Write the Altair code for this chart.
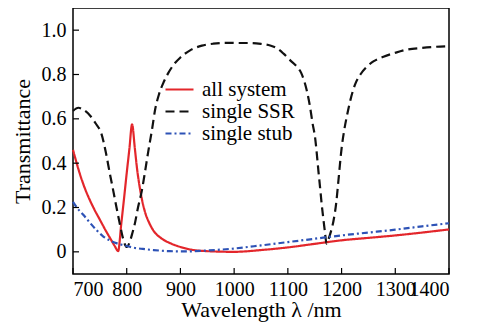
import altair as alt
import pandas as pd

series_names = ["all system", "single SSR", "single stub"]
series_colors = ["#e3262b", "#111111", "#2d52b6"]
series_dashes = [[1, 0], [9, 5], [6, 3, 2, 3]]

lam_all = [700, 713, 720, 732, 740, 750, 760, 770, 778, 784, 790, 795, 800, 805, 810,
           815, 819, 825, 834, 842, 850, 865, 880, 900, 920, 950, 1000, 1050, 1100,
           1150, 1200, 1250, 1300, 1350, 1400]
t_all = [0.46, 0.35, 0.30, 0.23, 0.19, 0.145, 0.10, 0.058, 0.025, 0.003, 0.13, 0.24,
         0.355, 0.465, 0.575, 0.47, 0.38, 0.28, 0.18, 0.13, 0.095, 0.06, 0.04, 0.022,
         0.01, 0.003, 0.0, 0.008, 0.02, 0.036, 0.052, 0.063, 0.074, 0.087, 0.101]

lam_ssr = [700, 710, 720, 732, 742, 753, 761, 769, 775, 781, 786, 791, 795, 800, 805,
           810, 815, 821, 828, 834, 840, 847, 853, 860, 868, 877, 887, 900, 918, 940,
           961, 985, 1011, 1030, 1050, 1067, 1080, 1092, 1104, 1117, 1125, 1135, 1141,
           1146, 1151, 1154, 1157, 1160, 1163, 1166, 1169, 1172, 1176, 1180, 1185, 1190,
           1194, 1200, 1205, 1210, 1217, 1225, 1235, 1247, 1260, 1278, 1300, 1321, 1350,
           1375, 1400]
t_ssr = [0.636, 0.65, 0.64, 0.614, 0.58, 0.532, 0.45, 0.348, 0.275, 0.2, 0.14, 0.082,
         0.045, 0.022, 0.04, 0.08, 0.126, 0.2, 0.274, 0.36, 0.451, 0.55, 0.643, 0.71,
         0.761, 0.805, 0.843, 0.877, 0.909, 0.93, 0.939, 0.943, 0.942, 0.942, 0.938,
         0.931, 0.918, 0.894, 0.865, 0.835, 0.806, 0.73, 0.658, 0.58, 0.51, 0.44, 0.362,
         0.29, 0.215, 0.15, 0.09, 0.037, 0.06, 0.09, 0.14, 0.22, 0.318, 0.466, 0.55,
         0.614, 0.69, 0.754, 0.8, 0.835, 0.86, 0.88, 0.898, 0.912, 0.92, 0.925, 0.928]

lam_stub = [700, 707, 720, 732, 745, 756, 770, 782, 794, 810, 830, 850, 880, 910, 950,
            1000, 1050, 1100, 1150, 1200, 1250, 1300, 1350, 1400]
t_stub = [0.225, 0.2, 0.165, 0.13, 0.095, 0.07, 0.05, 0.038, 0.03, 0.02, 0.013, 0.008,
          0.003, 0.002, 0.006, 0.015, 0.029, 0.044, 0.059, 0.074, 0.087, 0.1, 0.115, 0.129]

x_ticks = [700, 800, 900, 1000, 1100, 1200, 1300, 1400]
y_ticks = [0, 0.2, 0.4, 0.6, 0.8, 1.0]

rows = []
for name, lams, ts in [("all system", lam_all, t_all),
                       ("single SSR", lam_ssr, t_ssr),
                       ("single stub", lam_stub, t_stub)]:
    for i, (l, t) in enumerate(zip(lams, ts)):
        rows.append({"series": name, "lam": l, "T": t, "idx": i})
df = pd.DataFrame(rows)

W, H = 376, 266
FONT = "Liberation Serif"
xs = alt.Scale(domain=[700, 1400], nice=False, zero=False)
ys = alt.Scale(domain=[-0.1, 1.1], nice=False, zero=False)

x_axis = alt.Axis(values=x_ticks, title="Wavelength λ /nm", grid=False, format="d",
                  labelOverlap=False, ticks=False, tickSize=0, domain=False, labelPadding=5,
                  titleX=W / 2, titleY=42, titleBaseline="alphabetic")
y_axis = alt.Axis(values=y_ticks, title="Transmittance", grid=False,
                  ticks=False, tickSize=0, domain=False, labelPadding=7, labelOverlap=False,
                  labelExpr="datum.value == 0 ? '0' : format(datum.value, '.1f')",
                  titleX=-51, titleY=H / 2, titleBaseline="middle",
                  titleAlign="center", titleAngle=-90)

leg = alt.Legend(title=None, rowPadding=0, labelFontSize=21, labelOffset=12)

lines = alt.Chart(df).mark_line(strokeWidth=2.2, interpolate="monotone").encode(
    x=alt.X("lam:Q", scale=xs, axis=x_axis),
    y=alt.Y("T:Q", scale=ys, axis=y_axis),
    color=alt.Color("series:N", scale=alt.Scale(domain=series_names, range=series_colors),
                    legend=leg),
    strokeDash=alt.StrokeDash("series:N",
                              scale=alt.Scale(domain=series_names, range=series_dashes),
                              legend=leg),
    order="idx:Q",
)

xt = alt.Chart(pd.DataFrame({"lam": x_ticks})).mark_rule(color="black", strokeWidth=1.2).encode(
    x=alt.X("lam:Q", scale=xs, axis=x_axis), y=alt.value(H), y2=alt.value(H - 6))
yt = alt.Chart(pd.DataFrame({"T": y_ticks})).mark_rule(color="black", strokeWidth=1.2).encode(
    y=alt.Y("T:Q", scale=ys, axis=y_axis), x=alt.value(0), x2=alt.value(6))

chart = alt.layer(lines, xt, yt).properties(
    width=W, height=H,
    autosize=alt.AutoSizeParams(type="none"),
    padding={"left": 65, "top": 0, "right": 28, "bottom": 52},
).configure_view(stroke="black", strokeWidth=1.5).configure_axis(
    labelFont=FONT, labelFontSize=20, labelColor="black",
    titleFont=FONT, titleFontSize=22, titleFontWeight="normal", titleColor="black",
).configure_legend(
    orient="none", legendX=96, legendY=71, padding=0,
    labelFont=FONT, labelColor="black",
    symbolType="M-1.75,0H1.75", symbolSize=256, symbolStrokeWidth=2.2,
)

chart.save("out.html", embed_options={"renderer": "svg", "actions": False})
